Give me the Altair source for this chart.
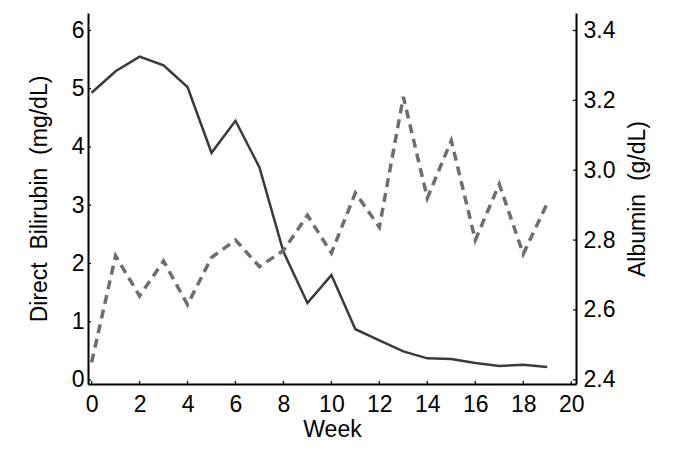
import altair as alt
import pandas as pd

weeks = list(range(20))
bilirubin = [4.93, 5.3, 5.55, 5.4, 5.03, 3.9, 4.45, 3.65, 2.2, 1.32, 1.8, 0.87, 0.68, 0.49, 0.37, 0.36, 0.29, 0.24, 0.26, 0.22]
albumin = [2.45, 2.755, 2.64, 2.74, 2.615, 2.75, 2.80, 2.724, 2.77, 2.871, 2.763, 2.935, 2.837, 3.21, 2.92, 3.085, 2.80, 2.96, 2.76, 2.905]

x_ticks = [0, 2, 4, 6, 8, 10, 12, 14, 16, 18, 20]
left_ticks = [0, 1, 2, 3, 4, 5, 6]
right_ticks = [2.4, 2.6, 2.8, 3.0, 3.2, 3.4]

df = pd.DataFrame({"week": weeks, "bilirubin": bilirubin, "albumin": albumin})
df_xt = pd.DataFrame({"week": x_ticks})
df_lt = pd.DataFrame({"bilirubin": left_ticks})
df_rt = pd.DataFrame({"albumin": right_ticks})

FONT = "Liberation Sans"
W, H = 488, 371
TK = 3

x_scale = alt.Scale(domain=[-0.15, 20.2], nice=False, zero=False)
x_enc = alt.X(
    "week:Q", scale=x_scale,
    axis=alt.Axis(title="Week", values=x_ticks, grid=False, ticks=False,
                  titlePadding=2, labelPadding=9),
)

l_scale = alt.Scale(domain=[-0.07, 6.3], nice=False, zero=False)
r_scale = alt.Scale(domain=[2.388, 3.45], nice=False, zero=False)

l_axis = alt.Axis(title="Direct\u00a0 Bilirubin\u00a0 (mg/dL)", orient="left",
                  values=left_ticks, grid=False, ticks=False,
                  labelPadding=4, titlePadding=20)
r_axis = alt.Axis(title="Albumin\u00a0 (g/dL)", orient="right", titleAngle=270,
                  titleBaseline="top", values=right_ticks, format=".1f",
                  grid=False, ticks=False, labelPadding=7, titlePadding=12)

bili = alt.Chart(df).mark_line(color="#3a3a3a", strokeWidth=2.5).encode(
    x=x_enc, y=alt.Y("bilirubin:Q", scale=l_scale, axis=l_axis),
)
bili_ticks = alt.Chart(df_lt).mark_rule(color="black", strokeWidth=1.2).encode(
    y=alt.Y("bilirubin:Q", scale=l_scale, axis=l_axis),
    x=alt.value(0), x2=alt.value(TK),
)
xticks = alt.Chart(df_xt).mark_rule(color="black", strokeWidth=1.2).encode(
    x=x_enc, y=alt.value(H), y2=alt.value(H - TK),
)

alb = alt.Chart(df).mark_line(color="#6e6e6e", strokeWidth=3.5, strokeDash=[9, 6]).encode(
    x=x_enc, y=alt.Y("albumin:Q", scale=r_scale, axis=r_axis),
)
alb_ticks = alt.Chart(df_rt).mark_rule(color="black", strokeWidth=1.2).encode(
    y=alt.Y("albumin:Q", scale=r_scale, axis=r_axis),
    x=alt.value(W - TK), x2=alt.value(W),
)

chart = (
    alt.layer(alt.layer(bili, bili_ticks, xticks), alt.layer(alb, alb_ticks))
    .resolve_scale(y="independent")
    .properties(
        width=W, height=H,
        padding={"left": 80, "top": 5, "right": 91, "bottom": 58},
        autosize=alt.AutoSizeParams(type="none"),
    )
    .configure_view(stroke=None)
    .configure_axis(
        labelFont=FONT, titleFont=FONT, labelFontSize=23, titleFontSize=23,
        titleFontWeight="normal", labelColor="black", titleColor="black",
        domainColor="black", domainWidth=2,
    )
)

chart.save("out.html", embed_options={"renderer": "svg", "actions": False})
